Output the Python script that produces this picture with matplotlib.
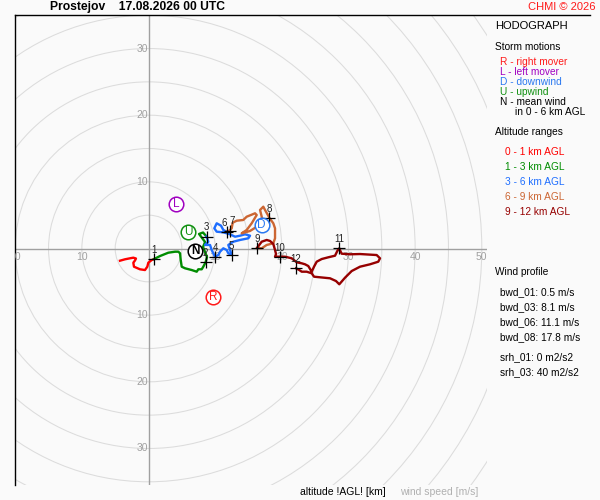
import matplotlib
matplotlib.use('Agg')
import matplotlib.pyplot as plt
from matplotlib.patches import Circle
from matplotlib.lines import Line2D
from matplotlib.transforms import ScaledTranslation

plt.rcParams['font.family'] = ['Liberation Sans', 'DejaVu Sans']

# ---------------- data (m/s) ----------------
station = "Prostejov"
time_str = "17.08.2026 00 UTC"

range_labels = ["0 - 1 km AGL", "1 - 3 km AGL", "3 - 6 km AGL", "6 - 9 km AGL", "9 - 12 km AGL"]
range_colors = ["#ff0000", "#008c00", "#1e6eff", "#cc6633", "#960000"]

u_0_1 = [-4.28, -3.53, -2.78, -2.28, -1.88, -2.03, -2.28, -2.18, -1.28, -0.53, -0.18, -0.03, 0.48, 0.83]
v_0_1 = [-1.83, -1.62, -1.47, -1.38, -1.50, -1.80, -2.13, -2.73, -3.12, -3.23, -2.73, -2.13, -1.73, -1.58]

u_1_3 = [0.83, 1.73, 2.97, 3.98, 4.47, 4.73, 4.83, 4.98, 5.48, 6.48, 7.23, 7.47, 7.98, 8.22, 8.55,
         8.78, 8.48, 8.18, 8.48, 8.03, 7.58, 8.18, 8.70]
v_1_3 = [-1.58, -1.13, -0.63, -0.48, -0.48, -0.72, -1.73, -2.73, -2.97, -3.23, -3.48, -3.12, -3.12, -2.73, -2.10,
         -1.28, -0.53, 0.23, 0.98, 1.58, 2.18, 2.40, 1.80]

u_3_6 = [8.70, 8.97, 8.48, 9.23, 9.48, 9.98, 10.47, 10.73, 11.22, 11.73, 11.97, 12.48, 12.23, 11.97, 12.72,
         13.73, 14.97, 15.23, 14.48, 13.73, 12.98, 12.23, 11.22, 10.23, 9.87, 10.23, 10.88, 11.22, 11.73]
v_3_6 = [1.80, 1.02, 0.53, 0.53, -0.23, -1.23, -0.98, -0.48, 0.03, -0.23, -0.72, -0.98, -0.23, 0.53, 1.02,
         1.28, 1.53, 1.92, 2.13, 1.92, 1.77, 2.13, 2.43, 2.52, 3.03, 3.78, 3.42, 2.78, 2.52]

u_6_9 = [11.73, 12.15, 12.48, 12.63, 13.23, 14.22, 14.73, 15.98, 16.23, 15.48, 14.73, 13.98, 15.23, 16.43,
         17.03, 16.73, 17.22, 17.48, 18.15, 18.72, 18.98, 18.98, 18.72, 17.73, 16.98, 16.28]
v_6_9 = [2.52, 2.70, 3.03, 3.87, 4.17, 4.28, 4.77, 5.28, 5.03, 3.78, 2.78, 2.28, 2.63, 3.38,
         4.58, 5.78, 6.27, 5.78, 4.58, 3.78, 3.03, 1.53, 0.78, 0.53, 0.03, 0.08]

u_9_12 = [16.28, 16.98, 17.73, 18.23, 18.72, 18.98, 19.13, 18.98, 19.73, 20.48, 21.48, 22.23, 22.98, 23.48,
          23.97, 24.48, 24.83, 25.23, 25.98, 26.97, 27.98, 28.32, 28.62, 28.83, 28.98, 30.23, 31.73, 34.23,
          34.73, 34.47, 33.23, 31.73, 30.48, 29.48, 28.62, 28.13, 27.23, 25.73, 24.83, 24.48, 23.73, 22.98,
          22.62, 22.13]
v_9_12 = [0.08, 1.02, 1.28, 1.13, 0.68, -0.23, -0.83, -1.23, -1.23, -1.23, -1.47, -2.07, -2.22, -2.37,
          -2.63, -3.48, -2.73, -1.98, -1.58, -1.32, -1.08, -0.38, 0.03, -0.48, -0.78, -0.87, -0.83, -0.98,
          -1.47, -1.98, -2.37, -2.73, -3.38, -4.38, -5.37, -4.88, -4.47, -4.32, -4.23, -3.72, -3.48, -3.48,
          -3.23, -2.97]

seg_u = [u_0_1, u_1_3, u_3_6, u_6_9, u_9_12]
seg_v = [v_0_1, v_1_3, v_3_6, v_6_9, v_9_12]

alt_km = [1, 2, 3, 4, 5, 6, 7, 8, 9, 10, 11, 12]
alt_u = [0.83, 8.55, 8.70, 9.98, 12.48, 11.73, 12.15, 18.15, 16.28, 19.73, 28.62, 22.13]
alt_v = [-1.58, -2.10, 1.80, -1.23, -0.98, 2.52, 2.70, 4.58, 0.08, -1.23, 0.03, -2.97]

storm_letters = ["R", "L", "D", "U", "N"]
storm_u = [9.72, 4.13, 16.98, 5.97, 6.98]
storm_v = [-7.23, 6.68, 3.53, 2.52, -0.33]
storm_colors = ["#ff1a1a", "#a000c0", "#2a78f0", "#109010", "#000000"]
storm_desc = ["R - right mover", "L - left mover", "D - downwind", "U - upwind", "N - mean wind"]

ring_radii = list(range(5, 70, 5))
x_tick_vals = [-20, -10, 10, 20, 30, 40, 50]
y_tick_vals = [-30, -20, -10, 10, 20, 30]

wind_profile = ["bwd_01: 0.5 m/s", "bwd_03: 8.1 m/s", "bwd_06: 11.1 m/s", "bwd_08: 17.8 m/s"]
helicity = ["srh_01: 0 m2/s2", "srh_03: 40 m2/s2"]

# ---------------- figure ----------------
W, H = 600, 500
bg = "#fafafa"
fig = plt.figure(figsize=(W / 100, H / 100), dpi=100, facecolor=bg)


def fx(px):
    return px / W


def fy(py):
    return 1 - py / H


ax = fig.add_axes([fx(15), fy(485), (487 - 15) / W, (485 - 15) / H])
ax.set_facecolor(bg)
ax.set_xlim(-20.03, 50.78)
ax.set_ylim(-35.48, 35.03)
ax.set_aspect('equal', adjustable='box')
ax.set_xticks([])
ax.set_yticks([])
for s in ['top', 'right', 'bottom']:
    ax.spines[s].set_visible(False)
ax.spines['left'].set_color('black')
ax.spines['left'].set_linewidth(1.0)

for r in ring_radii:
    ax.add_patch(Circle((0, 0), r, fill=False, ec='#dcdcdc', lw=0.75, zorder=1))

ax.axhline(0, color='#a0a0a0', lw=1.0, zorder=2)
ax.axvline(0, color='#a0a0a0', lw=1.0, zorder=2)

tick_col = '#a0a0a0'
below = ax.transData + ScaledTranslation(0, -2.5 / 72, fig.dpi_scale_trans)
leftof = ax.transData + ScaledTranslation(-0.5 / 72, 0, fig.dpi_scale_trans)
for t in x_tick_vals:
    ax.text(t, 0, str(abs(t)), transform=below, ha='center', va='top',
            fontsize=7.5, color=tick_col, clip_on=True, zorder=3)
for t in y_tick_vals:
    ax.text(0, t, str(abs(t)), transform=leftof, ha='right', va='center',
            fontsize=7.5, color=tick_col, clip_on=True, zorder=3)

for us, vs, c in zip(seg_u, seg_v, range_colors):
    ax.plot(us, vs, color=c, lw=1.7, solid_joinstyle='round', zorder=4)

ax.plot(alt_u, alt_v, linestyle='none', marker='+', ms=8, mew=0.9, color='black', zorder=5)
above = ax.transData + ScaledTranslation(0, 6.5 / 72, fig.dpi_scale_trans)
label_ha = {6: 'right', 7: 'left'}
for k, u, v in zip(alt_km, alt_u, alt_v):
    ax.text(u, v, str(k), transform=above, ha=label_ha.get(k, 'center'), va='center', fontsize=7,
            color='#222222', zorder=6)

for letter, u, v, c in zip(storm_letters, storm_u, storm_v, storm_colors):
    ax.plot([u], [v], marker='o', ms=10.5, mfc='white', mec=c, mew=1.1, zorder=7)
    ax.text(u, v, letter, ha='center', va='center', fontsize=8.5, color=c,
            fontweight='bold' if letter == 'N' else 'normal', zorder=8)

# top border extending into legend panel
fig.add_artist(Line2D([fx(15), fx(590)], [fy(15), fy(15)], color='black', lw=1.0))

# ---------------- texts ----------------
fig.text(fx(50), fy(7), f"{station}    {time_str}", fontsize=8.7, fontweight='bold',
         ha='left', va='center', color='black')
fig.text(fx(596), fy(7), "CHMI \u00a9 2026", fontsize=8, ha='right', va='center', color='#ff1a1a')

fs = 7.3
fig.text(fx(495), fy(26), "HODOGRAPH", fontsize=8, ha='left', va='center', color='black')
fig.text(fx(495), fy(46.7), "Storm motions", fontsize=fs, ha='left', va='center', color='black')
for i, (d, c) in enumerate(zip(storm_desc, storm_colors)):
    fig.text(fx(500.5), fy(61.7 + 10 * i), d, fontsize=fs, ha='left', va='center', color=c)
fig.text(fx(515), fy(112.3), "in 0 - 6 km AGL", fontsize=fs, ha='left', va='center', color='black')

fig.text(fx(495), fy(131.7), "Altitude ranges", fontsize=fs, ha='left', va='center', color='black')
for i, (lab, c) in enumerate(zip(range_labels, range_colors)):
    fig.text(fx(505), fy(151.7 + 15 * i), lab, fontsize=fs, ha='left', va='center', color=c)

fig.text(fx(495), fy(272), "Wind profile", fontsize=fs, ha='left', va='center', color='black')
for i, s in enumerate(wind_profile):
    fig.text(fx(500), fy(292 + 15 * i), s, fontsize=fs, ha='left', va='center', color='black')
for i, s in enumerate(helicity):
    fig.text(fx(500), fy(357 + 15 * i), s, fontsize=fs, ha='left', va='center', color='black')

fig.text(fx(300), fy(492.3), "altitude !AGL! [km]", fontsize=7.5, ha='left', va='center', color='black')
fig.text(fx(400), fy(492.3), "wind speed [m/s]", fontsize=7.5, ha='left', va='center', color='#b0b0b0')

fig.savefig("out.png", dpi=100, facecolor=bg)
